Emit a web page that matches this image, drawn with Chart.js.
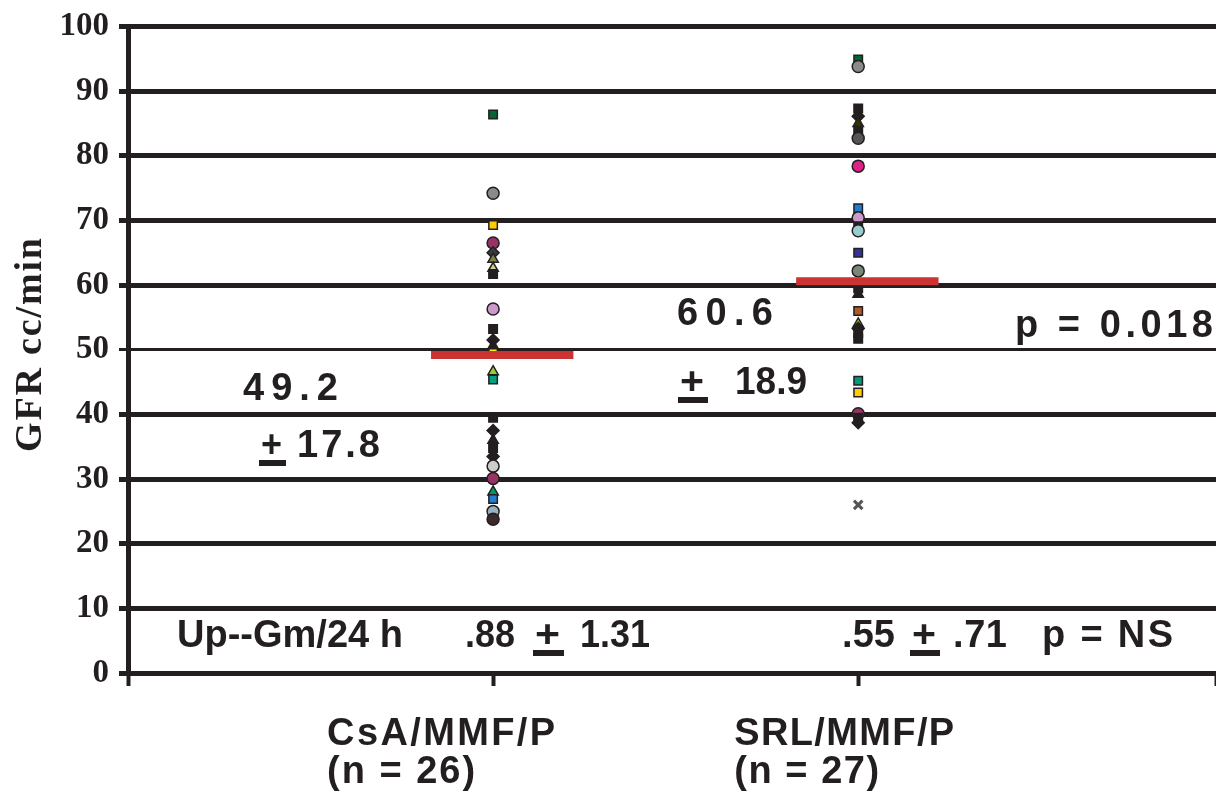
<!DOCTYPE html>
<html>
<head>
<meta charset="utf-8">
<title>GFR by regimen</title>
<script src="https://cdn.jsdelivr.net/npm/chart.js@4.4.1/dist/chart.umd.min.js"></script>
<style>
  html, body { margin: 0; padding: 0; background: #fff; }
  #wrap { width: 1216px; height: 794px; }
</style>
</head>
<body>
<div id="wrap"><canvas id="gfrChart" width="1216" height="794"></canvas></div>
<script>
// groups along the x axis
const groupNames = ['CsA/MMF/P', 'SRL/MMF/P'];
const groupCounts = [26, 27];
const groupX = [1, 2];
const xMax = 2.98;

// GFR (cc/min) per patient
const csaGfr = [86.4, 74.2, 69.3, 66.5, 65.0, 64.0, 62.6, 61.7, 56.3, 53.2, 51.5, 50.6, 49.5,
                46.6, 45.4, 39.5, 37.5, 36.0, 34.8, 33.5, 32.0, 30.1, 28.0, 26.9, 25.0, 23.8];
const srlGfr = [94.9, 93.8, 87.3, 86.1, 85.0, 83.8, 82.7, 78.4, 71.9, 70.4, 69.1, 68.4, 65.0, 62.2,
                59.5, 58.6, 56.0, 54.0, 53.3, 52.6, 51.7, 45.2, 43.4, 40.1, 39.5, 38.7, 26.0];

// group summaries
const meanGfr = [49.2, 60.6];
const sdGfr = [17.8, 18.9];
const gfrP = '0.018';
const upMean = ['.88', '.55'];
const upSd = ['1.31', '.71'];
const upP = 'NS';

// y ticks
const yMin = 0, yMax = 100, yStep = 10;

const ink = '#231f20';

// one marker per patient, old spreadsheet palette
const csaMarkers = [
  ['rect', '#006633'], ['circle', '#8a8a8a'], ['rect', '#ffcc00'], ['circle', '#993366'],
  ['rectRot', '#3a3a3a'], ['triangle', '#808040'], ['triangle', '#cccc99'], ['rect', ink],
  ['circle', '#cc99cc'], ['rect', ink], ['rectRot', ink], ['triangle', ink], ['rect', '#ffee00'],
  ['triangle', '#99cc33'], ['rect', '#00a080'], ['rect', ink], ['rectRot', ink], ['triangle', ink],
  ['rect', ink], ['rectRot', ink], ['circle', '#cccccc'], ['circle', '#993366'],
  ['triangle', '#009966'], ['rect', '#1e7fd0'], ['circle', '#99b0c0'], ['circle', '#3a2a2a']
];
const srlMarkers = [
  ['rect', '#006633'], ['circle', '#8a8a8a'], ['rect', ink], ['rectRot', ink], ['triangle', '#333300'],
  ['rect', ink], ['circle', '#555555'], ['circle', '#dd2288'], ['rect', '#1e7fd0'], ['circle', '#cc99cc'],
  ['rect', ink], ['circle', '#99cccc'], ['rect', '#333399'], ['circle', '#778877'], ['rect', ink],
  ['triangle', ink], ['rect', '#b05a28'], ['triangle', '#99cc33'], ['rectRot', ink], ['rect', ink],
  ['rect', ink], ['rect', '#009977'], ['rect', '#ffcc00'], ['circle', '#993366'], ['rect', ink],
  ['rectRot', ink], ['crossRot', '#555555']
];

// width of the red mean bar around each group, in x units
const meanSpan = [-0.17, 0.22];

function groupDataset(values, markers, gx) {
  return {
    data: values.map(v => ({ x: gx, y: v })),
    pointStyle: markers.map(m => m[0]),
    backgroundColor: markers.map(m => m[1]),
    borderColor: markers.map(m => m[0] === 'crossRot' ? m[1] : ink),
    pointRadius: 6,
    pointBorderWidth: markers.map(m => m[0] === 'crossRot' ? 3 : 1.5),
    showLine: false,
    order: 2
  };
}

function meanDataset(i) {
  return {
    data: meanSpan.map(d => ({ x: groupX[i] + d, y: meanGfr[i] })),
    showLine: true,
    borderColor: '#cc3333',
    borderWidth: 8,
    borderCapStyle: 'butt',
    pointRadius: 0,
    order: 0
  };
}

// draws a string so that it spans the given width
function fitText(ctx, str, x, y, width) {
  const natural = ctx.measureText(str).width;
  const chars = [...str];
  if (chars.length < 2 || natural >= width) {
    ctx.save();
    ctx.translate(x, y);
    ctx.scale(width / natural, 1);
    ctx.fillText(str, 0, 0);
    ctx.restore();
    return;
  }
  const gap = (width - natural) / (chars.length - 1);
  let cx = x;
  chars.forEach(ch => {
    ctx.fillText(ch, cx, y);
    cx += ctx.measureText(ch).width + gap;
  });
}

// "+" with a bar underneath
function plusMinus(ctx, x, y, w) {
  fitText(ctx, '+', x + 2, y, w - 6);
  ctx.fillRect(x, y + 3, w, 6);
}

const annotations = {
  id: 'annotations',
  afterDraw(chart) {
    const ctx = chart.ctx;
    ctx.save();
    ctx.fillStyle = ink;
    ctx.textAlign = 'left';
    ctx.textBaseline = 'alphabetic';

    // y axis title
    ctx.save();
    ctx.font = 'bold 38px "Liberation Serif"';
    ctx.translate(41, 345);
    ctx.rotate(-Math.PI / 2);
    fitText(ctx, 'GFR cc/min', -107, 0, 214);
    ctx.restore();

    ctx.font = 'bold 38px "Liberation Sans"';

    // mean +- sd of each group
    fitText(ctx, meanGfr[0].toFixed(1), 243, 400, 95);
    plusMinus(ctx, 259, 457, 27);
    fitText(ctx, sdGfr[0].toFixed(1), 297, 457, 83);

    fitText(ctx, meanGfr[1].toFixed(1), 677, 325, 96);
    plusMinus(ctx, 678, 394, 30);
    fitText(ctx, sdGfr[1].toFixed(1), 735, 394, 72);

    fitText(ctx, 'p = ' + gfrP, 1015, 337, 198);

    // urine protein row
    fitText(ctx, 'Up--Gm/24 h', 177, 647, 226);
    fitText(ctx, upMean[0], 465, 647, 50);
    plusMinus(ctx, 533, 647, 31);
    fitText(ctx, upSd[0], 580, 647, 70);
    fitText(ctx, upMean[1], 842, 647, 53);
    plusMinus(ctx, 910, 647, 30);
    fitText(ctx, upSd[1], 953, 647, 54);
    fitText(ctx, 'p = ' + upP, 1042, 647, 131);

    // group names under the axis
    const xs = chart.scales.x;
    const nameWidths = [228, 220];
    const countWidths = [148, 145];
    groupNames.forEach((name, i) => {
      const left = xs.getPixelForValue(groupX[i]) - 166 + i * 42;
      fitText(ctx, name, left, 745, nameWidths[i]);
      fitText(ctx, '(n = ' + groupCounts[i] + ')', left, 783, countWidths[i]);
    });
    ctx.restore();
  }
};

new Chart(document.getElementById('gfrChart'), {
  type: 'scatter',
  data: {
    datasets: [
      groupDataset(csaGfr, csaMarkers, groupX[0]),
      groupDataset(srlGfr, srlMarkers, groupX[1]),
      meanDataset(0),
      meanDataset(1)
    ]
  },
  options: {
    responsive: false,
    animation: false,
    layout: { autoPadding: false, padding: { top: 25, right: 0 } },
    plugins: {
      legend: { display: false },
      tooltip: { enabled: false }
    },
    scales: {
      x: {
        type: 'linear',
        min: 0,
        max: xMax,
        ticks: { display: false },
        afterBuildTicks: s => { s.ticks = [0, ...groupX, xMax].map(v => ({ value: v })); },
        grid: { drawOnChartArea: false, drawTicks: true, tickLength: 13, tickWidth: 4, color: ink },
        border: { display: true, color: ink, width: 5 },
        afterFit: s => { s.height = 121; }
      },
      y: {
        min: yMin,
        max: yMax,
        ticks: {
          stepSize: yStep,
          color: ink,
          padding: 10,
          font: { family: 'Liberation Serif', weight: 'bold', size: 33, lineHeight: 1 }
        },
        grid: {
          color: ink,
          lineWidth: c => (c.tick && c.tick.value === 50 ? 3 : 5),
          tickLength: 9
        },
        border: { color: ink, width: 5 },
        afterFit: s => { s.width = 128; }
      }
    }
  },
  plugins: [annotations]
});
</script>
</body>
</html>
